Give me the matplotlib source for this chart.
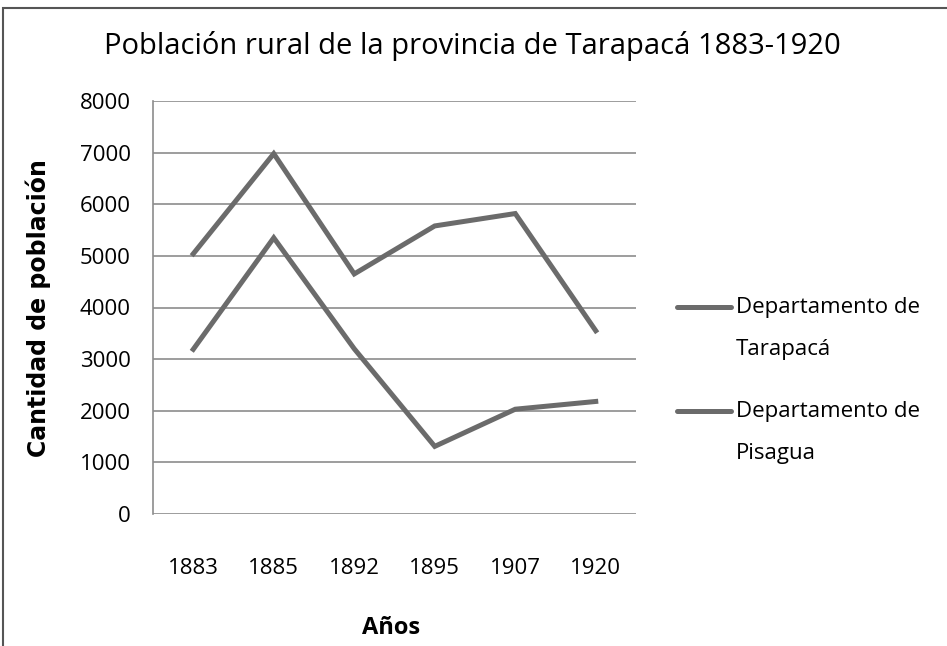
import matplotlib
matplotlib.use("Agg")
import matplotlib.pyplot as plt
from matplotlib.lines import Line2D
from matplotlib.patches import Rectangle

# datos
anios = ["1883", "1885", "1892", "1895", "1907", "1920"]
tarapaca = [5040, 6980, 4650, 5580, 5820, 3550]
pisagua = [3190, 5350, 3200, 1310, 2030, 2180]

etiquetas = ["Departamento de\nTarapacá", "Departamento de\nPisagua"]
fuente = ["Open Sans", "DejaVu Sans"]
gris = "#6b6b6b"

fig = plt.figure(figsize=(9.47, 6.46), dpi=100)
ax = fig.add_axes([153 / 947, 1 - 514 / 646, 483 / 947, 413 / 646])

x = range(len(anios))
l1, = ax.plot(x, tarapaca, color=gris, lw=3.6, solid_joinstyle="miter")
l2, = ax.plot(x, pisagua, color=gris, lw=3.6, solid_joinstyle="miter")

ax.set_xlim(-0.5, len(anios) - 0.5)
ax.set_ylim(0, 8000)
ax.set_yticks(range(0, 8001, 1000))
ax.set_xticks(list(x))
ax.set_xticklabels(anios, family=fuente, fontsize=16)
for t in ax.get_yticklabels():
    t.set_family(fuente)
    t.set_fontsize(16)
ax.tick_params(length=0, pad=16)
ax.tick_params(axis="x", pad=32)
ax.grid(axis="y", color="#8c8c8c", lw=1.2)
ax.set_axisbelow(True)
for lado in ["top", "right", "bottom"]:
    ax.spines[lado].set_visible(False)
ax.spines["left"].set_color("#8c8c8c")
ax.spines["left"].set_linewidth(1.2)

fig.text(472 / 947, 1 - 46 / 646, "Población rural de la provincia de Tarapacá 1883-1920",
         ha="center", va="center", fontsize=21, family=fuente)
fig.text(38 / 947, 1 - 308 / 646, "Cantidad de población", rotation=90,
         ha="center", va="center", fontsize=17, fontweight="bold")
fig.text(391 / 947, 1 - 628 / 646, "Años", ha="center", va="center",
         fontsize=17, fontweight="bold", family=fuente)

# leyenda a mano: la línea va alineada con la primera fila del texto
for linea, texto, yy in zip([l1, l2], etiquetas, [307, 411]):
    fig.add_artist(Line2D([677 / 947, 731 / 947], [1 - yy / 646] * 2,
                          transform=fig.transFigure, color=linea.get_color(),
                          lw=3.6, solid_capstyle="round"))
    fig.text(736 / 947, 1 - (yy - 10) / 646, texto, ha="left", va="top",
             fontsize=16, family=fuente, linespacing=2.3)

# borde del recuadro
fig.patches.append(Rectangle((3 / 947, -0.1), 1.1, 1 - 8 / 646 + 0.1,
                             transform=fig.transFigure, fill=False,
                             edgecolor="#555555", lw=1.5))

fig.savefig("out.png", dpi=100)
